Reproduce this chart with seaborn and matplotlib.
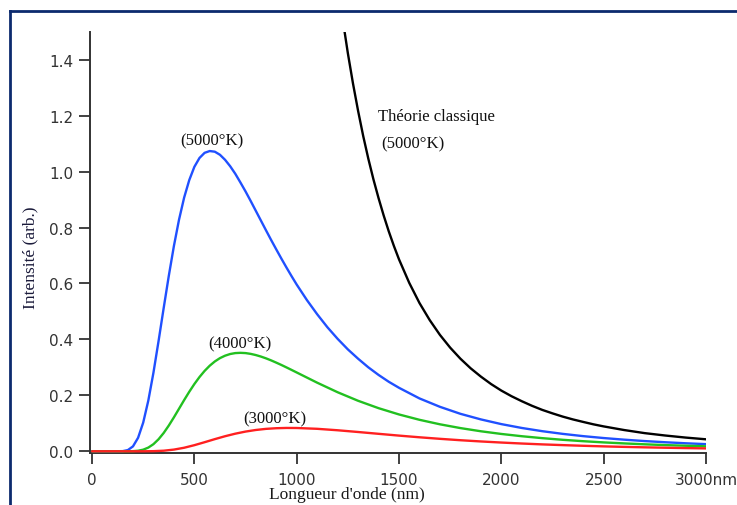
import numpy as np
import pandas as pd
import matplotlib
matplotlib.use("Agg")
import matplotlib.pyplot as plt
from matplotlib.lines import Line2D
import seaborn as sns

# ---- data ----
wl_5000 = [0, 50, 100, 150, 175, 200, 225, 250, 275, 300, 325, 350, 375, 400, 425, 450,
           475, 500, 525, 550, 575, 600, 625, 650, 675, 700, 725, 750, 775, 800, 825,
           850, 875, 900, 925, 950, 975, 1000, 1050, 1100, 1150, 1200, 1250, 1300, 1350,
           1400, 1450, 1500, 1600, 1700, 1800, 1900, 2000, 2100, 2200, 2300, 2400, 2500,
           2600, 2700, 2800, 2900, 3000]
i_5000 = [0.0, 0.0, 0.0, 0.0006, 0.0044, 0.0176, 0.0484, 0.1027, 0.1815, 0.281, 0.394,
          0.512, 0.627, 0.734, 0.828, 0.907, 0.9695, 1.017, 1.0486, 1.067, 1.0734, 1.071,
          1.060, 1.042, 1.019, 0.992, 0.961, 0.929, 0.895, 0.860, 0.825, 0.790, 0.7555,
          0.722, 0.689, 0.657, 0.626, 0.596, 0.5405, 0.490, 0.4435, 0.402, 0.3643, 0.331,
          0.3002, 0.273, 0.2485, 0.227, 0.189, 0.159, 0.134, 0.114, 0.0972, 0.0834, 0.0719,
          0.0623, 0.0542, 0.0474, 0.0416, 0.0366, 0.0324, 0.0287, 0.0256]

wl_4000 = [0, 50, 100, 150, 200, 225, 250, 275, 300, 325, 350, 375, 400, 425, 450, 475,
           500, 525, 550, 575, 600, 625, 650, 675, 700, 725, 750, 775, 800, 825, 850, 875,
           900, 925, 950, 975, 1000, 1100, 1200, 1300, 1400, 1500, 1600, 1700, 1800, 1900,
           2000, 2100, 2200, 2300, 2400, 2500, 2600, 2700, 2800, 2900, 3000]
i_4000 = [0.0, 0.0, 0.0, 0.0, 0.0005, 0.0020, 0.0058, 0.0133, 0.0255, 0.0431, 0.0655,
          0.0921, 0.1214, 0.1522, 0.1831, 0.2128, 0.2405, 0.2655, 0.2874, 0.3060, 0.3212,
          0.3331, 0.3418, 0.3478, 0.3511, 0.3520, 0.3511, 0.3483, 0.3441, 0.3387, 0.3323,
          0.3250, 0.3170, 0.3087, 0.2999, 0.2909, 0.2818, 0.2453, 0.2111, 0.1806, 0.1542,
          0.1317, 0.1126, 0.0965, 0.0830, 0.0716, 0.0620, 0.0539, 0.0470, 0.0411, 0.0361,
          0.0318, 0.0282, 0.0250, 0.0222, 0.0199, 0.0178]

wl_3000 = [0, 50, 100, 150, 200, 250, 300, 350, 400, 450, 500, 550, 600, 650, 700, 750,
           800, 850, 900, 950, 1000, 1100, 1200, 1300, 1400, 1500, 1600, 1700, 1800, 1900,
           2000, 2100, 2200, 2300, 2400, 2500, 2600, 2700, 2800, 2900, 3000]
i_3000 = [0.0, 0.0, 0.0, 0.0, 0.0, 0.00005, 0.0005, 0.0021, 0.0061, 0.0127, 0.0219,
          0.0325, 0.0435, 0.0539, 0.0630, 0.0705, 0.0762, 0.0802, 0.0825, 0.0835, 0.0833,
          0.0804, 0.0752, 0.0690, 0.0625, 0.0561, 0.0501, 0.0446, 0.0396, 0.0352, 0.0313,
          0.0278, 0.0247, 0.0221, 0.0197, 0.0176, 0.0158, 0.0142, 0.0128, 0.0115, 0.0104]

wl_classic = [1200, 1225, 1250, 1275, 1300, 1325, 1350, 1375, 1400, 1425, 1450, 1475,
              1500, 1550, 1600, 1650, 1700, 1750, 1800, 1850, 1900, 1950, 2000, 2050,
              2100, 2150, 2200, 2250, 2300, 2350, 2400, 2450, 2500, 2600, 2700, 2800,
              2900, 3000]
i_classic = [1.676, 1.543, 1.423, 1.315, 1.217, 1.127, 1.046, 0.972, 0.905, 0.843, 0.786,
             0.734, 0.686, 0.602, 0.530, 0.469, 0.416, 0.3705, 0.331, 0.2967, 0.267,
             0.2403, 0.217, 0.1968, 0.179, 0.1626, 0.148, 0.1356, 0.124, 0.1139, 0.105,
             0.0964, 0.089, 0.076, 0.065, 0.0565, 0.0491, 0.0429]

series_names = ["classique", "5000", "4000", "3000"]
x_ticks = [0, 500, 1000, 1500, 2000, 2500, 3000]
x_tick_labels = ["0", "500", "1000", "1500", "2000", "2500", "3000nm"]
y_ticks = [0.0, 0.2, 0.4, 0.6, 0.8, 1.0, 1.2, 1.4]

frames = [
    pd.DataFrame({"lambda": wl_classic, "I": i_classic, "series": "classique"}),
    pd.DataFrame({"lambda": wl_5000, "I": i_5000, "series": "5000"}),
    pd.DataFrame({"lambda": wl_4000, "I": i_4000, "series": "4000"}),
    pd.DataFrame({"lambda": wl_3000, "I": i_3000, "series": "3000"}),
]
df = pd.concat(frames, ignore_index=True)

palette = {"classique": "#000000", "5000": "#2050ff", "4000": "#22c020", "3000": "#ff2020"}

sns.set_theme(style="white")
plt.rcParams["font.family"] = ["DejaVu Sans"]

W, H = 737, 506
fig = plt.figure(figsize=(W / 100, H / 100), dpi=100)
ax_left, ax_bottom_px, ax_w, ax_h = 90, 453.7, 616, 421
ax = fig.add_axes([ax_left / W, (H - ax_bottom_px) / H, ax_w / W, ax_h / H])

sns.lineplot(data=df, x="lambda", y="I", hue="series", hue_order=series_names,
             palette=palette, sort=False, estimator=None, legend=False,
             linewidth=1.7, ax=ax, zorder=3)

ax.set_xlim(-10, 3000)
ax.set_ylim(-0.005, 1.5)
ax.set_xticks(x_ticks)
ax.set_xticklabels(x_tick_labels)
ax.set_yticks(y_ticks)
ax.set_yticklabels([f"{v:.1f}" for v in y_ticks])

for s in ["top", "right"]:
    ax.spines[s].set_visible(False)
for s in ["left", "bottom"]:
    ax.spines[s].set_color("#333333")
    ax.spines[s].set_linewidth(1.4)

ax.tick_params(axis="both", which="major", direction="out", length=8, width=1.3,
               color="#333333", labelsize=11, labelcolor="#333333")
ax.tick_params(axis="x", pad=6, bottom=True)
ax.tick_params(axis="y", pad=4, left=True)
ax.grid(False)

serif = ["Liberation Serif", "DejaVu Serif"]
ax.set_ylabel("Intensité (arb.)", family=serif, fontsize=12.5, color="#1a1a3a")
ax.yaxis.set_label_coords((38 - ax_left) / ax_w, (ax_bottom_px - 258) / ax_h)
ax.set_xlabel("Longueur d'onde (nm)", family=serif, fontsize=12.5, color="#1a1a1a")
ax.xaxis.set_label_coords((347 - ax_left) / ax_w, (ax_bottom_px - 487) / ax_h)

txt_kw = dict(family=serif, fontsize=12, color="#111111")
ax.text(586, 1.111, "(5000°K)", ha="center", va="center", **txt_kw)
ax.text(1399, 1.199, "Théorie classique", ha="left", va="center", **txt_kw)
ax.text(1415, 1.102, "(5000°K)", ha="left", va="center", **txt_kw)
ax.text(723, 0.384, "(4000°K)", ha="center", va="center", **txt_kw)
ax.text(894, 0.119, "(3000°K)", ha="center", va="center", **txt_kw)

# navy frame (left and top edges)
bx, by = 10 / W, 1 - 12 / H
fig.add_artist(Line2D([bx, bx], [0, by], transform=fig.transFigure,
                      color="#0c2a6e", linewidth=2.0, solid_capstyle="projecting"))
fig.add_artist(Line2D([bx, 1], [by, by], transform=fig.transFigure,
                      color="#0c2a6e", linewidth=2.0, solid_capstyle="projecting"))

fig.savefig("out.png", dpi=100)
